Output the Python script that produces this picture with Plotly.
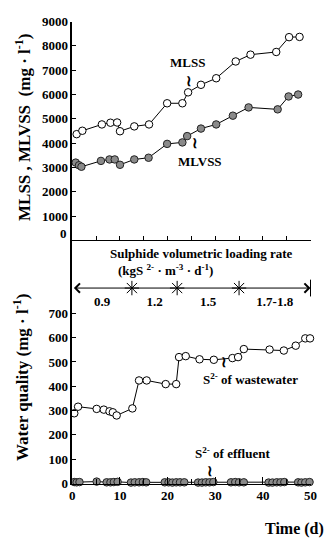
import plotly.graph_objects as go

# ---------------- data ----------------
mlss_day = [0.9, 2.1, 6.2, 8.0, 9.4, 10.0, 13.0, 16.1, 19.9, 23.1, 24.3, 27.0, 30.2, 34.3, 37.4, 42.8, 45.5, 47.7]
mlss_val = [4370, 4510, 4770, 4840, 4850, 4490, 4690, 4770, 5640, 5640, 6090, 6400, 6670, 7360, 7640, 7750, 8360, 8370]

mlvss_day = [0.7, 1.4, 1.9, 6.0, 7.8, 8.9, 10.0, 13.0, 16.0, 19.9, 23.1, 24.1, 27.0, 30.2, 33.7, 37.0, 43.1, 45.4, 47.4]
mlvss_val = [3200, 3090, 3030, 3270, 3330, 3330, 3110, 3330, 3400, 3970, 4030, 4290, 4600, 4770, 5130, 5470, 5390, 5920, 6000]

ww_day = [0.4, 1.2, 5.1, 6.6, 7.8, 8.5, 9.3, 12.6, 14.0, 15.6, 19.6, 21.8, 22.4, 23.8, 26.7, 29.7,
          33.6, 34.8, 36.0, 41.4, 44.4, 46.9, 48.9, 49.9]
ww_val = [289, 316, 307, 304, 297, 293, 280, 309, 424, 424, 409, 409, 520, 524, 511, 509,
          516, 520, 553, 551, 547, 567, 597, 597]

eff_day = [0.4, 0.9, 1.5, 5.1, 7.2, 8.0, 8.7, 9.5, 12.3, 13.1, 14.0, 14.8, 15.5,
           19.4, 20.2, 21.0, 21.8, 22.6, 23.5, 26.4, 27.2, 28.0, 28.8, 29.6,
           33.3, 34.2, 35.0, 36.0, 41.2, 42.0, 42.9, 43.7, 44.5, 47.4, 48.1, 48.9, 49.8]
eff_val = [6, 5, 6, 8, 5, 5, 6, 7, 4, 5, 5, 6, 5,
           5, 5, 4, 5, 5, 5, 4, 4, 5, 5, 6,
           5, 6, 5, 5, 4, 4, 5, 5, 6, 5, 4, 5, 6]

load_bounds = [0, 12.5, 22, 35, 50]
load_labels = ["0.9", "1.2", "1.5", "1.7-1.8"]

top_ticks = [1000, 2000, 3000, 4000, 5000, 6000, 7000, 8000, 9000]
bot_ticks = [0, 100, 200, 300, 400, 500, 600, 700]

# ---------------- layout constants ----------------
W, H = 334, 546
FONT = "Liberation Serif"
X_DOM = [71.5 / W, 317 / W]
TOP_DOM = [1 - 240 / H, 1 - 15 / H]
BOT_DOM = [1 - 490 / H, 1 - 240 / H]
LOAD_Y = 804      # height of loading-rate line in bottom-panel units
LOAD_LBL_Y = 745

line_style = dict(color="black", width=1)

fig = go.Figure()

fig.add_trace(go.Scatter(x=mlss_day, y=mlss_val, mode="lines+markers", xaxis="x", yaxis="y",
                         line=line_style, cliponaxis=False,
                         marker=dict(symbol="circle", size=7.5, color="white",
                                     line=dict(color="black", width=1))))
fig.add_trace(go.Scatter(x=mlvss_day, y=mlvss_val, mode="lines+markers", xaxis="x", yaxis="y",
                         line=line_style, cliponaxis=False,
                         marker=dict(symbol="circle", size=7.5, color="#8a8a8a",
                                     line=dict(color="#222", width=1))))
fig.add_trace(go.Scatter(x=ww_day, y=ww_val, mode="lines+markers", xaxis="x2", yaxis="y2",
                         line=line_style, cliponaxis=False,
                         marker=dict(symbol="circle", size=7.5, color="white",
                                     line=dict(color="black", width=1))))
fig.add_trace(go.Scatter(x=eff_day, y=eff_val, mode="lines+markers", xaxis="x2", yaxis="y2",
                         line=line_style, cliponaxis=False,
                         marker=dict(symbol="circle", size=7.5, color="#8a8a8a",
                                     line=dict(color="#222", width=1))))

# loading-rate boundaries (asterisks) and end bar
fig.add_trace(go.Scatter(x=load_bounds[1:-1], y=[LOAD_Y] * (len(load_bounds) - 2),
                         mode="markers", xaxis="x2", yaxis="y2", cliponaxis=False,
                         marker=dict(symbol="asterisk-open", size=12, color="black",
                                     line=dict(color="black", width=1))))
fig.add_trace(go.Scatter(x=[load_bounds[-1]], y=[LOAD_Y], mode="markers", xaxis="x2", yaxis="y2",
                         cliponaxis=False,
                         marker=dict(symbol="line-ns-open", size=12, color="black",
                                     line=dict(color="black", width=1))))
mids = [(a + b) / 2 for a, b in zip(load_bounds[:-1], load_bounds[1:])]
fig.add_trace(go.Scatter(x=mids, y=[LOAD_LBL_Y] * len(mids), mode="text", text=load_labels,
                         xaxis="x2", yaxis="y2", cliponaxis=False,
                         textfont=dict(family=FONT, size=13, color="black", weight="bold")))

tickfont = dict(family=FONT, size=13, color="black", weight="bold")
ax_common = dict(showgrid=False, zeroline=False, showline=True, linecolor="black",
                 mirror=False, tickcolor="black")

annotations = []

def ann(text, x, y, xref="paper", yref="paper", size=13, **kw):
    d = dict(text=text, x=x, y=y, xref=xref, yref=yref, showarrow=False,
             xanchor="center", yanchor="middle",
             font=dict(family=FONT, size=size, color="black", weight="bold"))
    d.update(kw)
    annotations.append(d)

# loading line with arrows at both ends
annotations.append(dict(x=load_bounds[-1], y=LOAD_Y, ax=load_bounds[0], ay=LOAD_Y,
                        xref="x2", yref="y2", axref="x2", ayref="y2", text="",
                        showarrow=True, arrowhead=4, arrowsize=1.8, arrowwidth=1,
                        startarrowhead=4, startarrowsize=1.8, arrowside="end+start",
                        arrowcolor="black", standoff=0, startstandoff=0))

# series labels + squiggles
ann("MLSS", 24.1, 7300, "x", "y")
ann("≀", 24.5, 6550, "x", "y", size=15)
ann("MLVSS", 26.8, 3250, "x", "y")
ann("≀", 25.8, 4020, "x", "y", size=15)
ann("S<sup>2-</sup> of wastewater", 37.4, 428, "x2", "y2")
ann("≀", 31.9, 500, "x2", "y2", size=15)
ann("S<sup>2-</sup> of effluent", 33.7, 126, "x2", "y2")
ann("≀", 28.8, 50, "x2", "y2", size=15)

# top panel "0" label (sits just above the axis line)
ann("0", 68 / W, 1 - 233 / H, xanchor="right")

# loading-rate caption
ann("Sulphide volumetric loading rate", 205 / W, 1 - 253 / H)
ann("(kgS <sup>2-</sup> · m<sup>-3</sup> · d<sup>-1</sup>)", 168 / W, 1 - 270 / H)

# axis titles
ann("MLSS , MLVSS  (mg · l<sup>-1</sup>)", 20 / W, 1 - 124 / H, size=17, textangle=-90)
ann("Water quality (mg · l<sup>-1</sup>)", 18 / W, 1 - 381 / H, size=17, textangle=-90)
ann("Time (d)", 333 / W, 1 - 537 / H, size=16, xanchor="right")

fig.update_layout(
    width=W, height=H,
    margin=dict(l=0, r=0, t=0, b=0),
    paper_bgcolor="white", plot_bgcolor="white",
    showlegend=False,
    xaxis=dict(domain=X_DOM, range=[0, 50], anchor="y", ticks="inside", dtick=5, ticklen=4,
               showticklabels=False, linewidth=1, **ax_common),
    yaxis=dict(domain=TOP_DOM, range=[0, 9000], anchor="x", ticks="inside", tickvals=top_ticks,
               ticklen=4, tickfont=tickfont, linewidth=1.5, **ax_common),
    xaxis2=dict(domain=X_DOM, range=[0, 50], anchor="y2", ticks="inside", dtick=10, ticklen=7,
                tickfont=tickfont, linewidth=1,
                minor=dict(dtick=5, ticks="inside", ticklen=5, tickcolor="black"), **ax_common),
    yaxis2=dict(domain=BOT_DOM, range=[0, 1000], anchor="x2", ticks="inside", tickvals=bot_ticks,
                ticklen=4, tickfont=tickfont, linewidth=1.5, **ax_common),
    annotations=annotations,
)

fig.write_html("out.html")
